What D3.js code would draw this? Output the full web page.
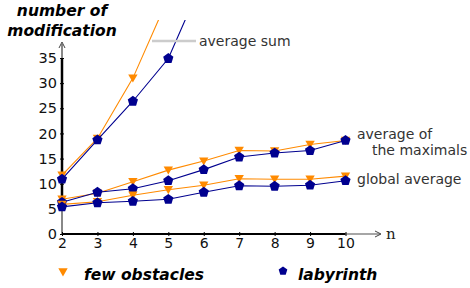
<!DOCTYPE html>
<html>
<head>
<meta charset="utf-8">
<script src="https://cdn.jsdelivr.net/npm/d3@7"></script>
<style>
  body { margin: 0; background: #fff; }
  svg { display: block; font-family: "DejaVu Sans", sans-serif; }
</style>
</head>
<body>
<div class="container"></div>
<script>
const width = 470;
const height = 288;

const nValues = [2, 3, 4, 5, 6, 7, 8, 9, 10];
const yTicks = [0, 5, 10, 15, 20, 25, 30, 35];

// few obstacles
const fewSum = [11.7, 19, 31, 47];
const fewMax = [6.9, 8.1, 10.4, 12.7, 14.5, 16.6, 16.5, 17.8, 18.6];
const fewAvg = [5.9, 6.4, 7.7, 8.8, 9.7, 11.0, 10.9, 10.9, 11.5];

// labyrinth
const labSum = [10.9, 18.7, 26.4, 34.9, 51];
const labMax = [6.3, 8.3, 9.0, 10.6, 12.8, 15.3, 16.1, 16.6, 18.6];
const labAvg = [5.4, 6.2, 6.5, 6.9, 8.3, 9.6, 9.5, 9.7, 10.6];

const orange = '#ff8a00';
const navy = '#00008f';

const svg = d3.select('.container')
    .append('svg')
    .attr('width', width)
    .attr('height', height)

const scaleX = d3.scaleLinear()
    .domain([2, 10])
    .range([62, 345.5])

const scaleY = d3.scaleLinear()
    .domain([0, 35])
    .range([234, 58])

// clip so the steep lines stop at the top
svg.append('clipPath')
    .attr('id', 'plot-clip')
    .append('rect')
    .attr('x', 0)
    .attr('y', 20)
    .attr('width', width)
    .attr('height', 240)

const dataMin = d3.min(labAvg.concat(fewAvg))

// y axis: gray outside the data range, black inside
svg.append('line')
    .attr('x1', scaleX(2)).attr('x2', scaleX(2))
    .attr('y1', scaleY(0)).attr('y2', 44)
    .attr('stroke', '#888').attr('stroke-width', 2)
svg.append('line')
    .attr('x1', scaleX(2)).attr('x2', scaleX(2))
    .attr('y1', scaleY(dataMin)).attr('y2', scaleY(35))
    .attr('stroke', '#000').attr('stroke-width', 2.5)
svg.append('path')
    .attr('d', `M${scaleX(2) - 3},48 L${scaleX(2)},42 L${scaleX(2) + 3},48`)
    .attr('fill', 'none').attr('stroke', '#444').attr('stroke-width', 1)

// x axis
svg.append('line')
    .attr('x1', scaleX(10)).attr('x2', 380)
    .attr('y1', scaleY(0)).attr('y2', scaleY(0))
    .attr('stroke', '#888').attr('stroke-width', 1.5)
svg.append('line')
    .attr('x1', scaleX(2)).attr('x2', scaleX(10))
    .attr('y1', scaleY(0)).attr('y2', scaleY(0))
    .attr('stroke', '#000').attr('stroke-width', 2)
svg.append('path')
    .attr('d', `M375,${scaleY(0) - 3} L381,${scaleY(0)} L375,${scaleY(0) + 3}`)
    .attr('fill', 'none').attr('stroke', '#444').attr('stroke-width', 1)

const x_axis = d3.axisBottom(scaleX)
    .tickValues(nValues)
    .tickFormat(d3.format('d'))
    .tickSize(4)
    .tickSizeOuter(0)

svg.append('g')
    .attr('transform', `translate(0, ${scaleY(0) - 2})`)
    .call(x_axis)
    .call(g => g.select('.domain').remove())
    .call(g => g.selectAll('.tick line').attr('stroke', '#000'))
    .call(g => g.selectAll('.tick text')
        .attr('y', 6)
        .attr('font-size', 14)
        .attr('font-family', 'DejaVu Sans')
        .attr('fill', '#111'))

const y_axis = d3.axisLeft(scaleY)
    .tickValues(yTicks)
    .tickSize(4)
    .tickSizeOuter(0)

svg.append('g')
    .attr('transform', `translate(${scaleX(2) + 2}, 0)`)
    .call(y_axis)
    .call(g => g.select('.domain').remove())
    .call(g => g.selectAll('.tick line').attr('stroke', '#000'))
    .call(g => g.selectAll('.tick text')
        .attr('x', -7)
        .attr('font-size', 14.5)
        .attr('font-family', 'DejaVu Sans')
        .attr('fill', '#111'))

svg.append('text')
    .attr('x', 8)
    .attr('y', 16)
    .attr('font-size', 15.5)
    .attr('font-weight', 'bold')
    .attr('font-style', 'italic')
    .selectAll('tspan')
    .data(['number of', 'modification'])
    .enter()
    .append('tspan')
    .attr('x', 62)
    .attr('text-anchor', 'middle')
    .attr('dy', (d, i) => i === 0 ? 0 : 19.5)
    .text(d => d)

// series
const line = d3.line()
    .x((d, i) => scaleX(nValues[i]))
    .y(d => scaleY(d))

const triangle = d3.symbol().type(d3.symbolTriangle).size(38)
const pentagon = 'M0,-5.4 L5.1,-1.7 L3.2,4.4 L-3.2,4.4 L-5.1,-1.7 Z'

const series = [
    { values: fewSum, color: orange, mark: 'tri' },
    { values: labSum, color: navy, mark: 'pent' },
    { values: fewMax, color: orange, mark: 'tri' },
    { values: labMax, color: navy, mark: 'pent' },
    { values: fewAvg, color: orange, mark: 'tri' },
    { values: labAvg, color: navy, mark: 'pent' }
]

const plot = svg.append('g').attr('clip-path', 'url(#plot-clip)')

series.forEach(s => {
    plot.append('path')
        .datum(s.values)
        .attr('d', line)
        .attr('fill', 'none')
        .attr('stroke', s.color)
        .attr('stroke-width', 1.1)

    plot.selectAll(null)
        .data(s.values)
        .enter()
        .append('path')
        .attr('d', s.mark === 'tri' ? triangle : pentagon)
        .attr('transform', (d, i) => s.mark === 'tri'
            ? `translate(${scaleX(nValues[i])}, ${scaleY(d) - 1}) rotate(180)`
            : `translate(${scaleX(nValues[i])}, ${scaleY(d)})`)
        .attr('fill', s.color)
})

// annotations
svg.append('line')
    .attr('x1', 152).attr('x2', 196)
    .attr('y1', 41).attr('y2', 41)
    .attr('stroke', '#ccc').attr('stroke-width', 2.5)

const labels = [
    { text: 'average sum', x: 199, y: 46 },
    { text: 'average of', x: 357, y: 139 },
    { text: 'the maximals', x: 372, y: 155 },
    { text: 'global average', x: 357, y: 184 }
]

svg.selectAll('.anno')
    .data(labels)
    .enter()
    .append('text')
    .attr('class', 'anno')
    .attr('x', d => d.x)
    .attr('y', d => d.y)
    .attr('font-size', 14)
    .attr('fill', '#333')
    .text(d => d.text)

svg.append('text')
    .attr('x', 386)
    .attr('y', 239)
    .attr('font-size', 15)
    .attr('font-family', 'DejaVu Serif')
    .attr('fill', '#222')
    .text('n')

// legend
svg.append('path')
    .attr('d', triangle)
    .attr('transform', 'translate(63, 271) rotate(180)')
    .attr('fill', orange)
svg.append('path')
    .attr('d', pentagon)
    .attr('transform', 'translate(283, 271) scale(0.85)')
    .attr('fill', navy)

svg.append('text')
    .attr('x', 84).attr('y', 280)
    .attr('font-size', 15.5)
    .attr('font-weight', 'bold')
    .attr('font-style', 'italic')
    .text('few obstacles')
svg.append('text')
    .attr('x', 298).attr('y', 280)
    .attr('font-size', 15.5)
    .attr('font-weight', 'bold')
    .attr('font-style', 'italic')
    .text('labyrinth')
</script>
</body>
</html>
